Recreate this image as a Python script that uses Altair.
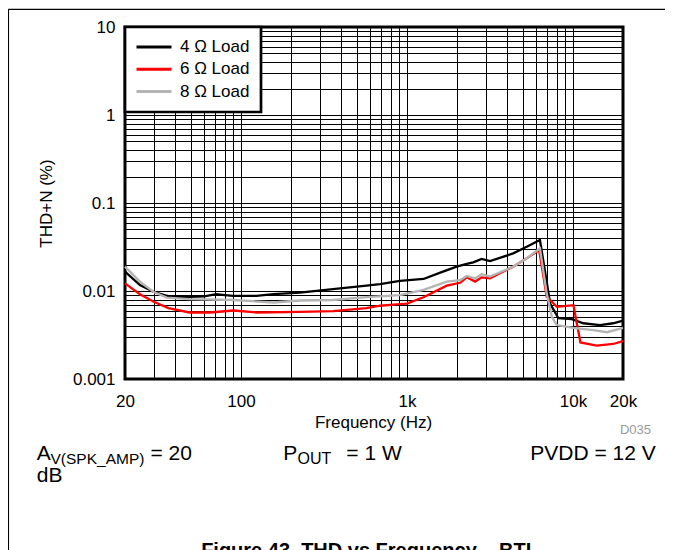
import altair as alt
import pandas as pd

# ---- data ----
series_names = ["4 Ω Load", "6 Ω Load", "8 Ω Load"]
series_colors = ["#000000", "#ff0000", "#b4b4b4"]

freq_4 = [20, 24.6, 29.6, 35, 39, 49, 60, 71, 80, 90, 124, 157, 226, 358, 570, 688, 906,
          1258, 1600, 1990, 2290, 2506, 2814, 3160, 3700, 4360, 5260, 6320, 7280, 8160,
          9840, 11540, 14540, 17460, 20000]
thd_4 = [0.0166, 0.0117, 0.0098, 0.0089, 0.0085, 0.0086, 0.0087, 0.0092, 0.0090, 0.0088,
         0.0088, 0.0092, 0.0096, 0.0105, 0.0115, 0.0120, 0.0130, 0.0137, 0.0163, 0.0189,
         0.0203, 0.0212, 0.0231, 0.0219, 0.0241, 0.0268, 0.0318, 0.0380, 0.0072, 0.0049,
         0.0048, 0.0043, 0.0041, 0.0043, 0.0046]

freq_6 = [20, 24.6, 29.6, 36.5, 49, 65, 90, 124, 226, 358, 570, 688, 906, 998, 1258, 1734,
          2090, 2290, 2570, 2814, 3160, 4360, 5260, 6250, 6940, 7280, 7980, 10060, 11080,
          13880, 17460, 20000]
thd_6 = [0.0122, 0.0092, 0.0076, 0.0064, 0.0057, 0.0057, 0.0060, 0.0057, 0.0058, 0.0059,
         0.0064, 0.0068, 0.0071, 0.0072, 0.0085, 0.0115, 0.0124, 0.0143, 0.0128, 0.0143,
         0.0139, 0.0189, 0.0235, 0.0292, 0.0086, 0.0079, 0.0066, 0.0069, 0.0026, 0.0024,
         0.0025, 0.0027]

freq_8 = [20, 24.6, 29.6, 35.7, 49, 90, 157, 226, 358, 570, 906, 1258, 1734, 2090, 2290,
          2570, 2814, 3160, 4360, 5260, 6320, 6940, 7460, 7980, 10060, 13220, 16040, 20000]
thd_8 = [0.0189, 0.0128, 0.0098, 0.0084, 0.0081, 0.0079, 0.0074, 0.0078, 0.0079, 0.0085,
         0.0090, 0.0103, 0.0128, 0.0133, 0.0148, 0.0139, 0.0155, 0.0146, 0.0189, 0.0235,
         0.0306, 0.0094, 0.0051, 0.0041, 0.0038, 0.0036, 0.0034, 0.0038]

x_grid = [20, 30, 40, 50, 60, 70, 80, 90, 100, 200, 300, 400, 500, 600, 700, 800, 900,
          1000, 2000, 3000, 4000, 5000, 6000, 7000, 8000, 9000, 10000, 20000]
y_grid = [round(m * 10 ** e, 6) for e in (-3, -2, -1, 0) for m in range(1, 10)] + [10]

x_labels = {20: "20", 100: "100", 1000: "1k", 10000: "10k", 20000: "20k"}
y_labels = {0.001: "0.001", 0.01: "0.01", 0.1: "0.1", 1: "1", 10: "10"}

rows = []
for name, fs, vs in zip(series_names, [freq_4, freq_6, freq_8], [thd_4, thd_6, thd_8]):
    for f, v in zip(fs, vs):
        rows.append({"load": name, "freq": f, "thd": v})
df = pd.DataFrame(rows)


def label_expr(mapping):
    expr = "''"
    for k, v in reversed(list(mapping.items())):
        expr = f"datum.value == {k} ? '{v}' : ({expr})"
    return expr


FONT = "Liberation Sans"

lines = alt.Chart(df).mark_line(strokeWidth=2.3).encode(
    x=alt.X("freq:Q",
            scale=alt.Scale(type="log", domain=[20, 20000], nice=False),
            axis=alt.Axis(values=x_grid, labelExpr=label_expr(x_labels), title="Frequency (Hz)",
                          grid=True, ticks=False, tickSize=0, domain=False, labelOverlap=False,
                          labelFlush=False, labelBound=False,
                          labelBaseline="alphabetic", labelPadding=27, labelFontSize=17,
                          titleFontSize=17, titleFontWeight="normal", titleX=248, titleY=48.7,
                          titleBaseline="alphabetic", titleAlign="center")),
    y=alt.Y("thd:Q",
            scale=alt.Scale(type="log", domain=[0.001, 10], nice=False),
            axis=alt.Axis(values=y_grid, labelExpr=label_expr(y_labels), title="THD+N (%)",
                          grid=True, ticks=False, tickSize=0, domain=False, labelOverlap=False,
                          labelFlush=False, labelBound=False,
                          labelPadding=10, labelFontSize=17, labelBaseline="middle",
                          titleFontSize=17, titleFontWeight="normal", titleX=-78.5, titleY=176,
                          titleAlign="center", titleBaseline="middle")),
    color=alt.Color("load:N",
                    scale=alt.Scale(domain=series_names, range=series_colors),
                    legend=alt.Legend(title=None, orient="top-left", offset=0,
                                      fillColor="white", strokeColor="black",
                                      padding=11.5, symbolOffset=-2.5, symbolType="stroke",
                                      symbolSize=1296, symbolStrokeWidth=3, labelFontSize=17,
                                      labelOffset=7, rowPadding=4.3, clipHeight=17,
                                      labelColor="black", labelFont=FONT)),
)

one = pd.DataFrame({"k": [0]})


def txt(text, x, y, size=21, align="left", weight="normal", color="black"):
    return alt.Chart(one).mark_text(align=align, baseline="alphabetic", fontSize=size,
                                    fontWeight=weight, color=color, font=FONT).encode(
        x=alt.value(x), y=alt.value(y), text=alt.value(text))


frame_v = alt.Chart(one).mark_rule(color="black", strokeWidth=1.3).encode(
    x=alt.value(-116.6), y=alt.value(-17.7), y2=alt.value(530))
frame_h = alt.Chart(one).mark_rule(color="black", strokeWidth=1.3).encode(
    x=alt.value(-116.6), x2=alt.value(548), y=alt.value(-17.7))

annotations = [
    txt("A", -88.3, 433),
    txt("V(SPK_AMP)", -74.5, 436.5, size=15.5),
    txt("= 20", 25.5, 433),
    txt("dB", -88.3, 455.3),
    txt("P", 158.3, 433),
    txt("OUT", 172.5, 436.5, size=16),
    txt("= 1 W", 221.3, 433),
    txt("PVDD = 12 V", 530.7, 433, align="right"),
    txt("D035", 526, 407.3, size=13, align="right", color="#999999"),
    txt("Figure 43. THD vs Frequency – BTL", 244.5, 530, size=20, align="center", weight="bold"),
]

chart = alt.layer(frame_v, frame_h, lines, *annotations).properties(
    width=498, height=352,
    autosize=alt.AutoSizeParams(type="none"),
    padding={"left": 117, "top": 19, "right": 42, "bottom": 171},
).configure(font=FONT).configure_view(
    stroke="black", strokeWidth=3
).configure_axis(
    gridColor="black", gridWidth=1, gridOpacity=1, labelColor="black", titleColor="black",
    labelFont=FONT, titleFont=FONT
).configure_legend(strokeWidth=2.7)

chart.save("out.html", embed_options={"renderer": "svg", "actions": False})
